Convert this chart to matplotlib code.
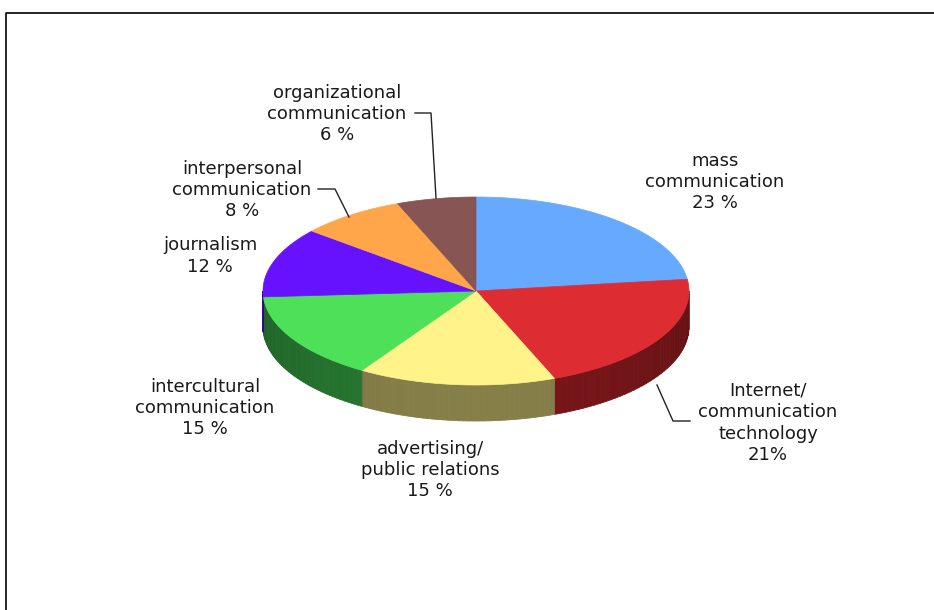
import numpy as np
import matplotlib
matplotlib.use('Agg')
import matplotlib.pyplot as plt
from matplotlib.patches import Polygon

# slices, clockwise from 12 o'clock
labels = ['mass\ncommunication\n23 %',
          'Internet/\ncommunication\ntechnology\n21%',
          'advertising/\npublic relations\n15 %',
          'intercultural\ncommunication\n15 %',
          'journalism\n12 %',
          'interpersonal\ncommunication\n8 %',
          'organizational\ncommunication\n6 %']
shares = [23, 21, 15, 15, 12, 8, 6]
top_colors = ['#66AAFF', '#DD2C32', '#FFF38A', '#4FE05A', '#6612FF', '#FFA64A', '#885555']
side_colors = ['#3D66A0', '#731518', '#807945', '#25722E', '#3A0A99', '#A06A30', '#553333']

# label anchor (centre of text block) in pixels
label_pos = [(715, 182), (768, 423), (430, 470), (205, 408), (210, 256), (242, 190), (337, 114)]

W, H = 934, 610
cx, cy, rx, ry, depth = 476, 291, 213, 94, 36

fig = plt.figure(figsize=(W / 100, H / 100), dpi=100)
ax = fig.add_axes([0, 0, 1, 1])
ax.set_xlim(0, W)
ax.set_ylim(H, 0)
ax.axis('off')

# frame (only left and top edge visible)
ax.plot([6, 6, W + 5], [H + 5, 13, 13], color='black', lw=1.2, zorder=1)

frac = np.array(shares) / float(sum(shares))
bounds = 90 - 360 * np.concatenate([[0], np.cumsum(frac)])


def pt(t, dz=0):
    r = np.radians(t)
    return cx + rx * np.cos(r), cy - ry * np.sin(r) + dz


# side walls (front half only), drawn in thin strips with a little shading
for i in range(len(shares)):
    a0, a1 = bounds[i], bounds[i + 1]  # a0 > a1
    base = np.array(matplotlib.colors.to_rgb(side_colors[i]))
    for off in (0, -360, 360):
        lo = max(a1 + off, -180)
        hi = min(a0 + off, 0)
        if hi > lo:
            ts = np.linspace(hi, lo, 40)
            for t0, t1 in zip(ts[:-1], ts[1:]):
                shade = 0.85 + 0.2 * abs(np.sin(np.radians((t0 + t1) / 2)))
                c = np.clip(base * shade, 0, 1)
                quad = [pt(t0), pt(t1), pt(t1, depth), pt(t0, depth)]
                ax.add_patch(Polygon(quad, closed=True, facecolor=c,
                                     edgecolor=c, lw=0.6, zorder=2))

# top face
for i in range(len(shares)):
    ts = np.linspace(bounds[i], bounds[i + 1], 80)
    pts = [(cx, cy)] + [pt(t) for t in ts]
    ax.add_patch(Polygon(pts, closed=True, facecolor=top_colors[i],
                         edgecolor=top_colors[i], lw=0.5, zorder=3))

# labels
for lab, (x, y) in zip(labels, label_pos):
    ax.text(x, y, lab, ha='center', va='center', fontsize=13,
            color='#1a1a1a', linespacing=1.25, zorder=5)

# leader lines
ax.plot([415, 431, 436], [113, 113, 198], color='#222222', lw=1, zorder=4)
ax.plot([318, 335, 349], [189, 189, 217], color='#222222', lw=1, zorder=4)
ax.plot([657, 673, 690], [385, 421, 421], color='#222222', lw=1, zorder=4)

fig.savefig('out.png', dpi=100)
